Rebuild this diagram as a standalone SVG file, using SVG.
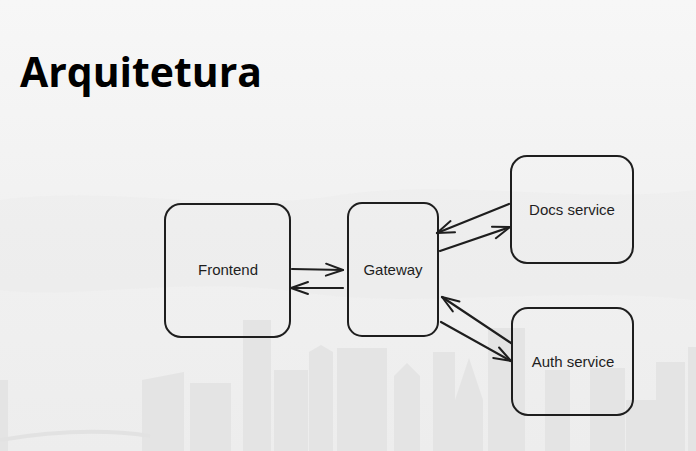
<svg xmlns="http://www.w3.org/2000/svg" width="696" height="451" viewBox="0 0 696 451">
<defs>
<linearGradient id="bg" x1="0" y1="0" x2="0" y2="1">
<stop offset="0" stop-color="#f7f7f7"/>
<stop offset="0.5" stop-color="#f1f1f1"/>
<stop offset="1" stop-color="#ededed"/>
</linearGradient>
<marker id="ah" viewBox="-19 -8 21 16" refX="0" refY="0" markerWidth="21" markerHeight="16" markerUnits="userSpaceOnUse" orient="auto">
<path d="M-17,-6 L0,0 L-17,6" fill="none" stroke="#1e1e1e" stroke-width="2" stroke-linecap="round" stroke-linejoin="round"/>
</marker>
</defs>
<style>
.box{fill:none;stroke:#1e1e1e;stroke-width:2}
.lbl{font-family:"Liberation Sans","DejaVu Sans",sans-serif;font-size:15px;fill:#1e1e1e;text-anchor:middle;dominant-baseline:central}
.con{fill:none;stroke:#1e1e1e;stroke-width:2.2;stroke-linecap:round;marker-end:url(#ah)}
.bld{fill:#e4e4e4}
.bld2{fill:#e9e9e9}
</style>
<rect x="0" y="0" width="696" height="451" fill="url(#bg)"/>
<g id="background">
<path class="bld2" d="M0,200 C120,185 220,215 340,195 C460,178 580,205 696,190 L696,300 C560,285 420,310 300,292 C180,276 80,300 0,290 Z" opacity="0.3"/>
<path class="bld" d="M142,380 L184,372 L184,451 L142,451 Z"/>
<rect class="bld" x="190" y="383" width="41" height="68"/>
<rect class="bld" x="243" y="320" width="28" height="131"/>
<rect class="bld" x="274" y="370" width="34" height="81"/>
<path class="bld" d="M309,451 L309,352 L321,345 L333,352 L333,451 Z"/>
<rect class="bld" x="337" y="348" width="50" height="103"/>
<path class="bld" d="M394,451 L394,376 L407,363 L420,376 L420,451 Z"/>
<rect class="bld" x="433" y="352" width="22" height="99"/>
<path class="bld" d="M455,451 L455,400 L469,358 L483,400 L483,451 Z"/>
<rect class="bld" x="488" y="328" width="37" height="123"/>
<rect class="bld" x="545" y="370" width="25" height="81"/>
<rect class="bld" x="590" y="368" width="35" height="83"/>
<rect class="bld" x="626" y="400" width="30" height="51"/>
<rect class="bld" x="656" y="362" width="29" height="89"/>
<rect class="bld" x="688" y="347" width="8" height="104"/>
<rect class="bld" x="0" y="380" width="8" height="71"/>
<path d="M0,440 C60,430 110,430 150,436" fill="none" stroke="#e2e2e2" stroke-width="4"/>
</g>
<text x="20" y="87" font-family="'Open Sans','Noto Sans',sans-serif" font-weight="bold" font-size="42" textLength="242" lengthAdjust="spacingAndGlyphs" fill="#000">Arquitetura</text>
<g id="connectors">
<line class="con" x1="292" y1="269" x2="343" y2="270"/>
<line class="con" x1="343" y1="288" x2="291" y2="288"/>
<line class="con" x1="440" y1="251" x2="510" y2="227"/>
<line class="con" x1="509" y1="204" x2="437" y2="233"/>
<line class="con" x1="511" y1="343" x2="442" y2="297"/>
<line class="con" x1="441" y1="322" x2="511" y2="361"/>
</g>
<g id="frontend">
<rect class="box" x="165" y="204" width="125" height="133" rx="16"/>
<text class="lbl" x="228" y="269">Frontend</text>
</g>
<g id="gateway">
<rect class="box" x="348" y="203" width="90" height="133" rx="14"/>
<text class="lbl" x="393" y="269">Gateway</text>
</g>
<g id="docs">
<rect class="box" x="511" y="156" width="122" height="107" rx="16"/>
<text class="lbl" x="572" y="209">Docs service</text>
</g>
<g id="auth">
<rect class="box" x="512" y="308" width="121" height="107" rx="16"/>
<text class="lbl" x="573" y="361">Auth service</text>
</g>
</svg>
